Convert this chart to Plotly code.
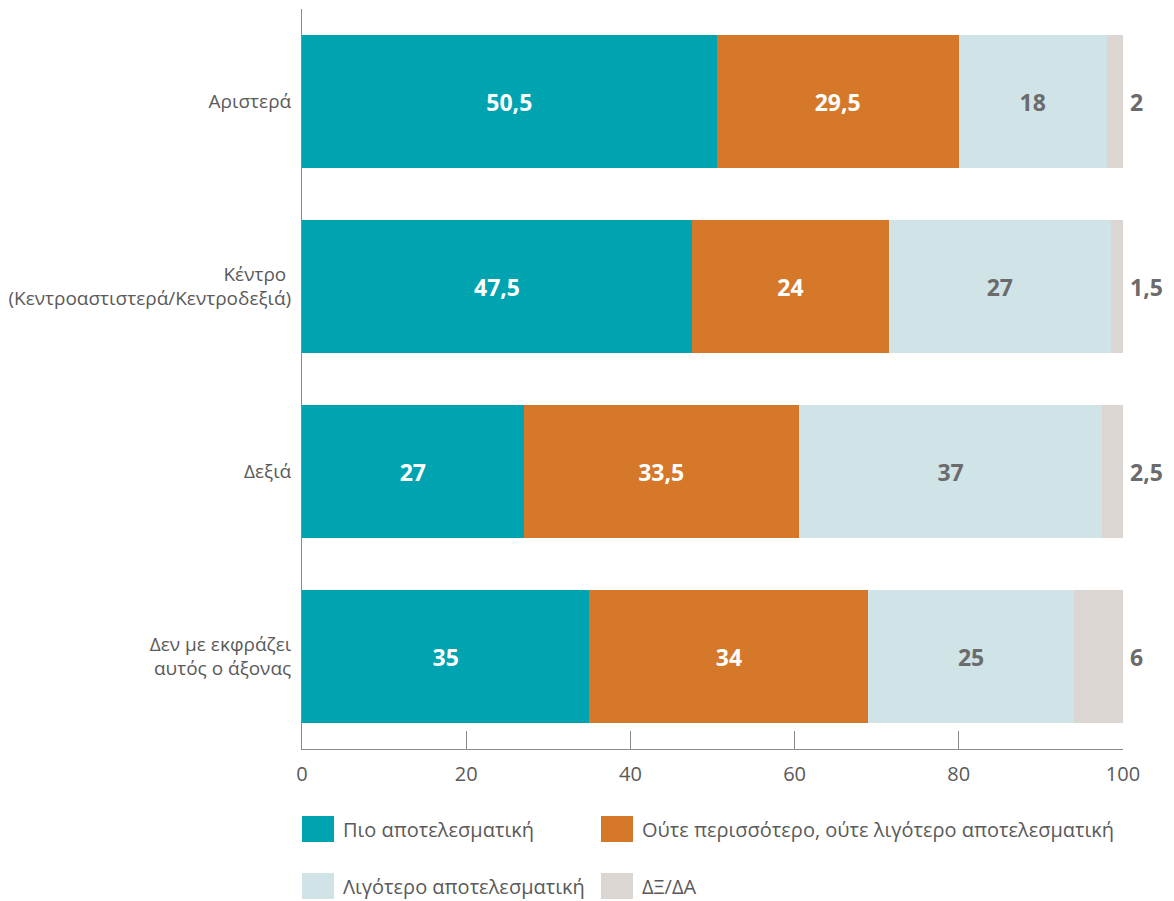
import plotly.graph_objects as go

# --- Données ---
categories = ["Αριστερά", "Κέντρο <br>(Κεντροαστιστερά/Κεντροδεξιά)", "Δεξιά",
              "Δεν με εκφράζει<br>αυτός ο άξονας"]
series_names = ["Πιο αποτελεσματική",
                "Ούτε περισσότερο, ούτε λιγότερο αποτελεσματική",
                "Λιγότερο αποτελεσματική", "ΔΞ/ΔΑ"]
pio = [50.5, 47.5, 27, 35]
oute = [29.5, 24, 33.5, 34]
ligotero = [18, 27, 37, 25]
dxda = [2, 1.5, 2.5, 6]
x_ticks = [0, 20, 40, 60, 80, 100]

# --- Style ---
COLORS = ["#00A3B0", "#D5782A", "#D0E3E7", "#DBD6D2"]
LABEL_COLORS = ["white", "white", "#6B6B6B", "#6B6B6B"]
FONT = "Open Sans"
GREY_TXT = "#5A5A5A"

# la page html ajoute ~8px de marge (body) en haut et à gauche
OFF = 8
W, H = 1158, 893
L, T = 302 - OFF, 1
PW, PH = 821, 740
R, B = W - L - PW, H - T - PH


def fmt(v):
    return f"{v:g}".replace(".", ",")


fig = go.Figure()
for i, vals in enumerate([pio, oute, ligotero, dxda]):
    fig.add_trace(go.Bar(
        y=categories, x=vals, orientation="h", name=series_names[i],
        marker=dict(color=COLORS[i], line=dict(width=0)),
        text=[fmt(v) for v in vals] if i < 3 else None,
        textposition="inside", insidetextanchor="middle",
        textfont=dict(family=FONT, size=23, color=LABEL_COLORS[i], weight="bold"),
        showlegend=False, hoverinfo="skip",
    ))

# valeurs ΔΞ/ΔΑ à droite des barres
for cat, v in zip(categories, dxda):
    fig.add_annotation(x=100, y=cat, text=f"<b>{fmt(v)}</b>", showarrow=False,
                       xanchor="left", xshift=5,
                       font=dict(family=FONT, size=23, color="#6B6B6B"))

# --- Légende maison (carrés plus grands) ---
def px_x(px):
    return (px - OFF - L) / PW


def px_y(py):
    return (T + PH - (py - OFF)) / PH


leg_pos = [(302, 829), (601, 829), (302, 886), (601, 886)]
for name, col, (lx, ly) in zip(series_names, COLORS, leg_pos):
    fig.add_shape(type="rect", xref="paper", yref="paper",
                  x0=px_x(lx), x1=px_x(lx + 32), y0=px_y(ly - 13), y1=px_y(ly + 13),
                  fillcolor=col, line=dict(width=0))
    fig.add_annotation(xref="paper", yref="paper", x=px_x(lx + 39), y=px_y(ly),
                       text=name, showarrow=False, xanchor="left", yanchor="middle",
                       font=dict(family=FONT, size=20, color=GREY_TXT))

fig.update_layout(
    width=W, height=H, barmode="stack", bargap=0.28,
    margin=dict(l=L, r=R, t=T, b=B),
    plot_bgcolor="white", paper_bgcolor="white",
    font=dict(family=FONT, color=GREY_TXT),
    showlegend=False,
)
fig.update_xaxes(range=[0, 100], tickvals=x_ticks, showgrid=False, zeroline=False,
                 showline=True, linecolor="#8A8A8A", linewidth=1,
                 ticks="inside", ticklen=18, tickcolor="#8A8A8A",
                 tickfont=dict(family=FONT, size=20, color=GREY_TXT),
                 ticklabelstandoff=7)
fig.update_yaxes(autorange="reversed", showgrid=False, zeroline=False,
                 showline=True, linecolor="#8A8A8A", linewidth=1, ticks="",
                 tickfont=dict(family=FONT, size=19, color=GREY_TXT),
                 ticklabelstandoff=6)

fig.write_html("out.html")
